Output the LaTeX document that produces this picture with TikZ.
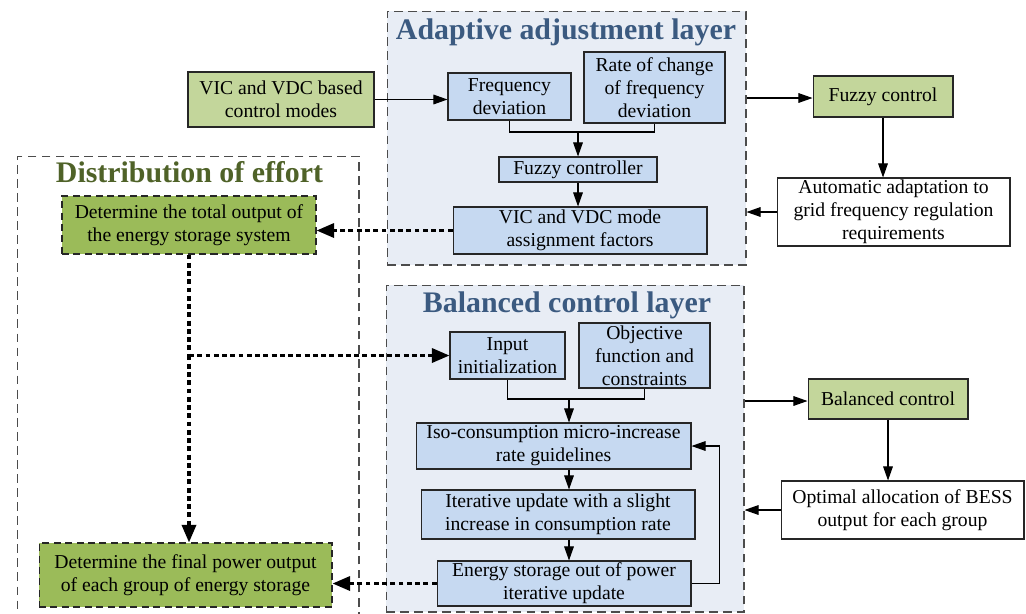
\documentclass[tikz,border=0pt]{standalone}
\usepackage{fontspec}
\setmainfont{Liberation Serif}
\usetikzlibrary{calc, arrows.meta}

\definecolor{boxblue}{HTML}{C6D9F1}
\definecolor{layerfill}{HTML}{E8EDF5}
\definecolor{lightgreen}{HTML}{C3D69B}
\definecolor{darkgreen}{HTML}{9BBB59}
\definecolor{titleblue}{HTML}{3B5A80}
\definecolor{titlegreen}{HTML}{4F6228}

\begin{document}
\begin{tikzpicture}[x=0.02cm, y=-0.02cm,
  font=\fontsize{11.2}{13}\selectfont,
  box/.style={draw=black!85, line width=0.6pt, align=center, inner sep=1pt},
  bluebox/.style={box, fill=boxblue},
  greenbox/.style={box, fill=lightgreen},
  effortbox/.style={box, fill=darkgreen, dash pattern=on 4pt off 2.5pt},
  whitebox/.style={box, fill=white},
  layer/.style={draw=black!70, line width=0.6pt, dash pattern=on 5pt off 3pt},
  title/.style={font=\fontsize{17}{20}\selectfont\bfseries},
  arr/.style={-{Triangle[length=8pt, width=5.5pt]}, line width=0.6pt},
  dotline/.style={line width=1.8pt, dash pattern=on 2.8pt off 1.9pt},
  dotarr/.style={dotline, -{Triangle[length=10pt, width=8pt]}}]
  \useasboundingbox (0,0) rectangle (1026,613);

  % layers
  \node[layer, fill=layerfill, minimum width=7.18cm, minimum height=5.08cm] (adaptL) at (566.5,138) {};
  \node[layer, fill=layerfill, minimum width=7.16cm, minimum height=6.54cm] (balL) at (565,448.5) {};
  \node[layer, minimum width=6.84cm, minimum height=9.2cm] (effortL) at (188,386) {};
  \node[title, text=titleblue] (adaptT) at (566,32) {Adaptive adjustment layer};
  \node[title, text=titleblue] (balT) at (567,305) {Balanced control layer};
  \node[title, text=titlegreen] (effortT) at (189.5,172) {Distribution of effort};

  % adaptive adjustment layer
  \node[greenbox, minimum width=3.72cm, minimum height=1.1cm] (vicmodes) at (281,99.5) {VIC and VDC based\\control modes};
  \node[bluebox, minimum width=2.46cm, minimum height=0.94cm] (fdev) at (509.5,96.5) {Frequency\\deviation};
  \node[bluebox, minimum width=2.82cm, minimum height=1.42cm] (rocof) at (654.5,87.5) {Rate of change\\of frequency\\deviation};
  \node[bluebox, minimum width=3.16cm, minimum height=0.5cm] (fuzzyc) at (578,169.5) {Fuzzy controller};
  \node[bluebox, minimum width=5.08cm, minimum height=0.94cm] (assign) at (580,230.5) {VIC and VDC mode\\assignment factors};
  \node[greenbox, minimum width=2.8cm, minimum height=0.82cm] (fuzzy) at (883,96.5) {Fuzzy control};
  \node[whitebox, minimum width=4.66cm, minimum height=1.36cm] (adapt) at (893.5,212) {Automatic adaptation to\\grid frequency regulation\\requirements};
  \coordinate (j1) at (578,132);

  % distribution of effort
  \node[effortbox, minimum width=5.08cm, minimum height=1.16cm] (total) at (189,225) {Determine the total output of\\the energy storage system};
  \node[effortbox, minimum width=5.86cm, minimum height=1.28cm] (final) at (185.5,575) {Determine the final power output\\of each group of energy storage};

  % balanced control layer
  \node[bluebox, minimum width=2.3cm, minimum height=0.94cm] (init) at (507.5,355.5) {Input\\initialization};
  \node[bluebox, minimum width=2.62cm, minimum height=1.3cm] (objf) at (644.5,355.5) {Objective\\function and\\constraints};
  \node[bluebox, minimum width=5.5cm, minimum height=0.92cm] (iso) at (553.5,446) {Iso-consumption micro-increase\\rate guidelines};
  \node[bluebox, minimum width=5.48cm, minimum height=0.98cm] (iter) at (558,514.5) {Iterative update with a slight\\increase in consumption rate};
  \node[bluebox, minimum width=5.08cm, minimum height=0.9cm] (esout) at (564,583.5) {Energy storage out of power\\iterative update};
  \node[greenbox, minimum width=3.2cm, minimum height=0.8cm] (balc) at (888,399) {Balanced control};
  \node[whitebox, minimum width=4.86cm, minimum height=1.16cm] (optal) at (902.5,510) {Optimal allocation of BESS\\output for each group};
  \coordinate (j2) at (569,399);

  \draw[arr] (vicmodes.east) -- (vicmodes.east -| fdev.west);
  \draw[line width=0.6pt] (fdev.south) |- (j1) -| (rocof.south);
  \draw[arr] (j1) -- (fuzzyc.north);
  \draw[arr] (fuzzyc.south) -- (fuzzyc.south |- assign.north);
  \draw[arr] (adaptL.east |- 0,98) -- (fuzzy.west |- 0,98);
  \draw[arr] (fuzzy.south) -- (fuzzy.south |- adapt.north);
  \draw[arr] (adapt.west) -- (adapt.west -| adaptL.east);
  \draw[dotarr] (assign.west) -- (assign.west -| total.east);

  \draw[dotline] (total.south) -- (total.south |- init);
  \draw[dotarr] (total.south |- init) -- (init.west);
  \draw[dotarr] (total.south |- init) -- (total.south |- final.north);
  \draw[dotarr] (esout.west) -- (esout.west -| final.east);

  \draw[line width=0.6pt] (init.south) |- (j2) -| (objf.south);
  \draw[arr] (j2) -- (j2 |- iso.north);
  \draw[arr] (j2 |- iso.south) -- (j2 |- iter.north);
  \draw[arr] (j2 |- iter.south) -- (j2 |- esout.north);
  \draw[arr] (esout.east) -- ++(28,0) |- (iso.east);
  \draw[arr] (balL.east |- 0,401) -- (balc.west |- 0,401);
  \draw[arr] (balc.south) -- (balc.south |- optal.north);
  \draw[arr] (optal.west) -- (optal.west -| balL.east);
\end{tikzpicture}
\end{document}
